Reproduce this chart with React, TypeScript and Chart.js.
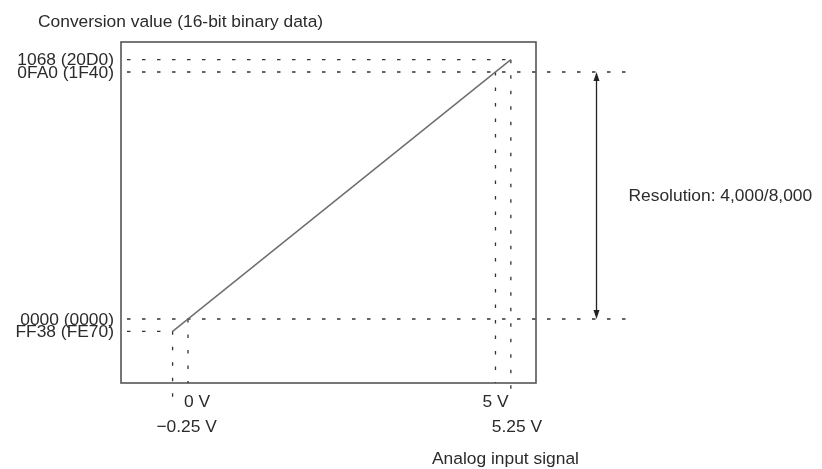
import React, { useEffect, useRef } from "react";
import { Chart, registerables } from "chart.js";

Chart.register(...registerables);

// ---- data ----
const voltTicks = [-0.25, 0, 5, 5.25];
const voltLabels = ["\u22120.25 V", "0 V", "5 V", "5.25 V"];
const codeTicks = [-200, 0, 4000, 4200];
const codeLabels = ["FF38 (FE70)", "0000 (0000)", "0FA0 (1F40)", "1068 (20D0)"];
const lineVolts = [-0.25, 5.25];
const lineCodes = [-200, 4200];
const resolutionFrom = 0;
const resolutionTo = 4000;
const yTitle = "Conversion value (16-bit binary data)";
const xTitle = "Analog input signal";
const resolutionText = "Resolution: 4,000/8,000";

// ---- layout constants (not data) ----
const X_MIN = -1.089;
const X_MAX = 5.659;
const Y_MIN = -1036;
const Y_MAX = 4486;
const GUIDE_RIGHT = 7.13; // volts, where long horizontal guides end
const GUIDE_LOW = -1310; // code, where long vertical guides end
const ARROW_X = 6.63; // volts
const longHoriz = [false, true, true, false];
const longVert = [true, false, false, true];
const xLabelDx = [14, 9, 0, 6];
const xLabelRow = [1, 0, 0, 1];

const FONT = "17.4px 'Liberation Sans', Arial, Helvetica, sans-serif";
const TEXT = "#2b2b2b";
const DOT = "#333333";

export default function App() {
  const ref = useRef<HTMLCanvasElement>(null);

  useEffect(() => {
    const canvas = ref.current!;
    const guideDatasets: any[] = [];
    codeTicks.forEach((c, i) => {
      const endX = longHoriz[i] ? GUIDE_RIGHT : voltTicks[i];
      guideDatasets.push({
        data: [
          { x: X_MIN, y: c },
          { x: endX, y: c },
        ],
        borderColor: DOT,
        borderWidth: 1.3,
        borderDash: [3.5, 11.5],
        borderDashOffset: -6,
        pointRadius: 0,
        showLine: true,
        clip: false,
      });
    });
    voltTicks.forEach((v, i) => {
      const endY = longVert[i] ? GUIDE_LOW : Y_MIN;
      guideDatasets.push({
        data: [
          { x: v, y: codeTicks[i] },
          { x: v, y: endY },
        ],
        borderColor: DOT,
        borderWidth: 1.3,
        borderDash: [3.5, 12],
        pointRadius: 0,
        showLine: true,
        clip: false,
      });
    });

    const deco = {
      id: "deco",
      beforeDatasetsDraw(chart: any) {
        const { ctx, chartArea: a } = chart;
        ctx.save();
        ctx.strokeStyle = "#555";
        ctx.lineWidth = 1.6;
        ctx.strokeRect(a.left, a.top, a.right - a.left, a.bottom - a.top);
        ctx.restore();
      },
      afterDatasetsDraw(chart: any) {
        const { ctx, chartArea: a } = chart;
        const xs = chart.scales.x;
        const ys = chart.scales.y;
        ctx.save();
        ctx.fillStyle = TEXT;
        ctx.font = FONT;
        ctx.textBaseline = "middle";

        // title
        ctx.textAlign = "left";
        ctx.fillText(yTitle, 38, 22);

        // y labels
        ctx.textAlign = "right";
        codeTicks.forEach((c, i) => {
          ctx.fillText(codeLabels[i], a.left - 7, ys.getPixelForValue(c) + 1);
        });

        // x labels
        ctx.textAlign = "center";
        voltTicks.forEach((v, i) => {
          const px = xs.getPixelForValue(v) + xLabelDx[i];
          const py = xLabelRow[i] === 0 ? 402 : 427;
          ctx.fillText(voltLabels[i], px, py);
        });

        // x title
        ctx.textAlign = "left";
        ctx.fillText(xTitle, 432, 459);

        // resolution arrow
        const ax = Math.round(xs.getPixelForValue(ARROW_X)) + 0.5;
        const yTop = ys.getPixelForValue(resolutionTo);
        const yBot = ys.getPixelForValue(resolutionFrom);
        ctx.strokeStyle = "#222";
        ctx.lineWidth = 1.3;
        ctx.beginPath();
        ctx.moveTo(ax, yTop + 4);
        ctx.lineTo(ax, yBot - 4);
        ctx.stroke();
        ctx.fillStyle = "#222";
        ctx.beginPath();
        ctx.moveTo(ax, yTop);
        ctx.lineTo(ax - 3, yTop + 9);
        ctx.lineTo(ax + 3, yTop + 9);
        ctx.closePath();
        ctx.fill();
        ctx.beginPath();
        ctx.moveTo(ax, yBot);
        ctx.lineTo(ax - 3, yBot - 9);
        ctx.lineTo(ax + 3, yBot - 9);
        ctx.closePath();
        ctx.fill();

        ctx.fillStyle = TEXT;
        ctx.textAlign = "left";
        ctx.fillText(resolutionText, ax + 32, 196);
        ctx.restore();
      },
    };

    const chart = new Chart(canvas, {
      type: "scatter",
      data: {
        datasets: [
          {
            data: lineVolts.map((v, i) => ({ x: v, y: lineCodes[i] })),
            borderColor: "#6e6e6e",
            borderWidth: 1.5,
            pointRadius: 0,
            showLine: true,
            clip: false,
          },
          ...guideDatasets,
        ],
      },
      options: {
        responsive: false,
        animation: false,
        events: [],
        layout: { padding: { left: 121, top: 42, right: 286, bottom: 86 } },
        plugins: {
          legend: { display: false },
          tooltip: { enabled: false },
          title: { display: false },
        },
        scales: {
          x: { type: "linear", min: X_MIN, max: X_MAX, display: false },
          y: { type: "linear", min: Y_MIN, max: Y_MAX, display: false },
        },
      },
      plugins: [deco],
    });
    return () => chart.destroy();
  }, []);

  return (
    <div style={{ position: "fixed", left: 0, top: 0, width: 822, height: 469, background: "#fff" }}>
      <canvas ref={ref} width={822} height={469} style={{ display: "block" }} />
    </div>
  );
}
